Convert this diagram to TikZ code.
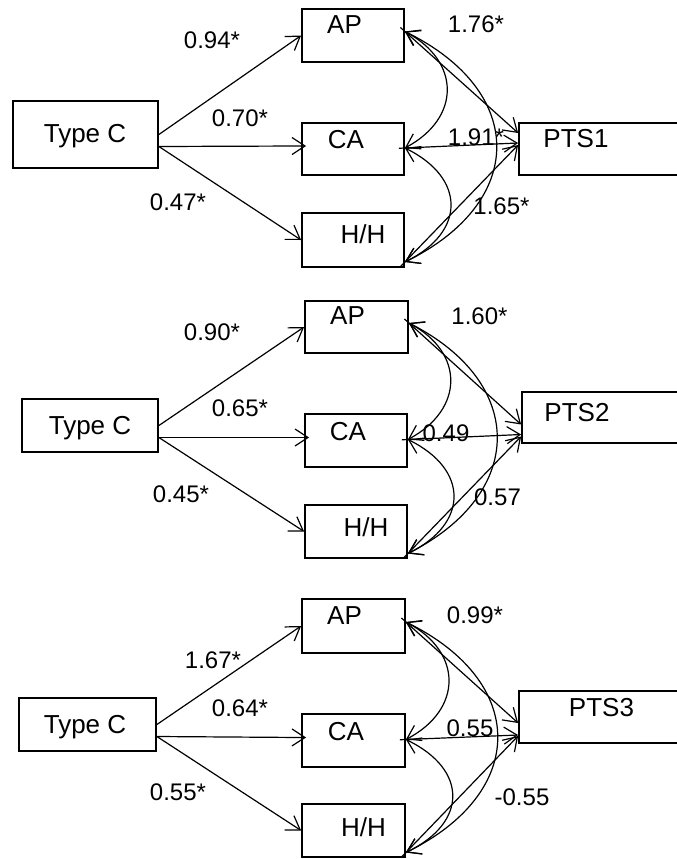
\documentclass[tikz,border=0pt]{standalone}
\usepackage{fontspec}
\setmainfont{Liberation Sans}
\usetikzlibrary{arrows.meta}

\begin{document}
\begin{tikzpicture}[x=1pt,y=-1pt,
        box/.style={draw, line width=1.8pt, inner sep=0pt},
        boxtxt/.style={font=\fontsize{26}{26}\selectfont, inner sep=0pt, text depth=0pt},
        coef/.style={font=\fontsize{24}{24}\selectfont, inner sep=0pt, text depth=0pt},
        reg/.style={line width=1.2pt, -{Straight Barb[length=13pt,width=17pt]}},
        regp/.style={reg, shorten <=-6pt},
        cov/.style={line width=1.2pt, {Straight Barb[length=13pt,width=17pt]}-{Straight Barb[length=13pt,width=17pt]}}]
    \clip (0,0) rectangle (677,859);

    % first model
    \node[box, minimum width=145pt, minimum height=67pt] (tc1) at (85.5,134.5) {};
    \node[box, minimum width=102pt, minimum height=53pt] (ap1) at (353,35.5) {};
    \node[box, minimum width=102pt, minimum height=52pt] (ca1) at (353,149) {};
    \node[box, minimum width=102pt, minimum height=54pt] (hh1) at (353,240) {};
    \node[box, minimum width=181pt, minimum height=52pt] (pts1) at (609.5,149) {};
    \node[boxtxt] (tc1t) at (85,133) {Type C};
    \node[boxtxt] (ap1t) at (344.5,25) {AP};
    \node[boxtxt] (ca1t) at (346,139) {CA};
    \node[boxtxt] (hh1t) at (363,234) {H/H};
    \node[boxtxt] (pts1t) at (576,138) {PTS1};

    \draw[reg] (tc1.east) -- (ap1.west);
    \draw[reg, shorten >=-5pt] ([yshift=-12pt]tc1.east) -- ([yshift=3pt]ca1.west);
    \draw[reg] ([yshift=-12pt]tc1.east) -- (hh1.west);

    \draw[regp] ([yshift=4pt]ap1.east) -- ([yshift=16pt]pts1.west);
    \draw[regp] ([yshift=1pt]ca1.east) -- ([yshift=6pt]pts1.west);
    \draw[regp] ([yshift=-22pt]hh1.east) -- ([yshift=4pt]pts1.west);

    \draw[cov] ([yshift=4pt]ap1.east) .. controls +(56,30) and +(56,-30) .. ([yshift=1pt]ca1.east);
    \draw[cov] ([yshift=1pt]ca1.east) .. controls +(61,30) and +(61,-30) .. ([yshift=-22pt]hh1.east);
    \draw[cov] ([yshift=4pt]ap1.east) .. controls +(122,60) and +(122,-60) .. ([yshift=-22pt]hh1.east);

    \node[coef] (b1ap) at (212,40) {0.94*};
    \node[coef] (b1ca) at (240,118) {0.70*};
    \node[coef] (b1hh) at (178,202) {0.47*};
    \node[coef] (p1ap) at (476,24) {1.76*};
    \node[coef] (p1ca) at (476,137.5) {1.91*};
    \node[coef] (p1hh) at (501.5,206) {1.65*};

    % second model
    \node[box, minimum width=136pt, minimum height=53pt] (tc2) at (90,425.5) {};
    \node[box, minimum width=103pt, minimum height=52pt] (ap2) at (356.5,327) {};
    \node[box, minimum width=102pt, minimum height=53pt] (ca2) at (356,440.5) {};
    \node[box, minimum width=102pt, minimum height=53pt] (hh2) at (356,531.5) {};
    \node[box, minimum width=178pt, minimum height=51pt] (pts2) at (611,417.5) {};
    \node[boxtxt] (tc2t) at (90,425) {Type C};
    \node[boxtxt] (ap2t) at (347.5,316) {AP};
    \node[boxtxt] (ca2t) at (348,431.5) {CA};
    \node[boxtxt] (hh2t) at (366,527) {H/H};
    \node[boxtxt] (pts2t) at (577,412) {PTS2};

    \draw[reg] (tc2.east) -- (ap2.west);
    \draw[reg, shorten >=-5pt] ([yshift=-12pt]tc2.east) -- ([yshift=3pt]ca2.west);
    \draw[reg] ([yshift=-12pt]tc2.east) -- (hh2.west);

    \draw[regp] ([yshift=4pt]ap2.east) -- ([yshift=-7pt]pts2.west);
    \draw[regp] ([yshift=1pt]ca2.east) -- ([yshift=-17pt]pts2.west);
    \draw[regp] ([yshift=-22pt]hh2.east) -- ([yshift=-19pt]pts2.west);

    \draw[cov] ([yshift=4pt]ap2.east) .. controls +(56,30) and +(56,-30) .. ([yshift=1pt]ca2.east);
    \draw[cov] ([yshift=1pt]ca2.east) .. controls +(61,30) and +(61,-30) .. ([yshift=-22pt]hh2.east);
    \draw[cov] ([yshift=4pt]ap2.east) .. controls +(118,60) and +(118,-60) .. ([yshift=-22pt]hh2.east);

    \node[coef] (b2ap) at (212,332) {0.90*};
    \node[coef] (b2ca) at (240,408) {0.65*};
    \node[coef] (b2hh) at (181,494) {0.45*};
    \node[coef] (p2ap) at (479.5,316) {1.60*};
    \node[coef] (p2ca) at (446,433.5) {0.49};
    \node[coef] (p2hh) at (497.5,497.5) {0.57};

    % third model
    \node[box, minimum width=137pt, minimum height=53pt] (tc3) at (87.5,724.5) {};
    \node[box, minimum width=103pt, minimum height=54pt] (ap3) at (353.5,626) {};
    \node[box, minimum width=103pt, minimum height=53pt] (ca3) at (353.5,740.5) {};
    \node[box, minimum width=103pt, minimum height=53pt] (hh3) at (353.5,830.5) {};
    \node[box, minimum width=181pt, minimum height=52pt] (pts3) at (609.5,717) {};
    \node[boxtxt] (tc3t) at (85,724) {Type C};
    \node[boxtxt] (ap3t) at (344.5,616) {AP};
    \node[boxtxt] (ca3t) at (346,731) {CA};
    \node[boxtxt] (hh3t) at (363.5,827) {H/H};
    \node[boxtxt] (pts3t) at (601.5,707) {PTS3};

    \draw[reg] (tc3.east) -- (ap3.west);
    \draw[reg, shorten >=-5pt] ([yshift=-12pt]tc3.east) -- ([yshift=3pt]ca3.west);
    \draw[reg] ([yshift=-12pt]tc3.east) -- (hh3.west);

    \draw[regp] ([yshift=4pt]ap3.east) -- ([yshift=-6pt]pts3.west);
    \draw[regp] ([yshift=1pt]ca3.east) -- ([yshift=-18pt]pts3.west);
    \draw[regp] ([yshift=-22pt]hh3.east) -- ([yshift=-19pt]pts3.west);

    \draw[cov] ([yshift=4pt]ap3.east) .. controls +(57,30) and +(57,-30) .. ([yshift=1pt]ca3.east);
    \draw[cov] ([yshift=1pt]ca3.east) .. controls +(62,30) and +(62,-30) .. ([yshift=-22pt]hh3.east);
    \draw[cov] ([yshift=4pt]ap3.east) .. controls +(122,60) and +(122,-60) .. ([yshift=-22pt]hh3.east);

    \node[coef] (b3ap) at (213,660) {1.67*};
    \node[coef] (b3ca) at (240,708) {0.64*};
    \node[coef] (b3hh) at (178,792) {0.55*};
    \node[coef] (p3ap) at (475,615) {0.99*};
    \node[coef] (p3ca) at (470,728.5) {0.55};
    \node[coef] (p3hh) at (522,797) {-0.55};
\end{tikzpicture}
\end{document}
